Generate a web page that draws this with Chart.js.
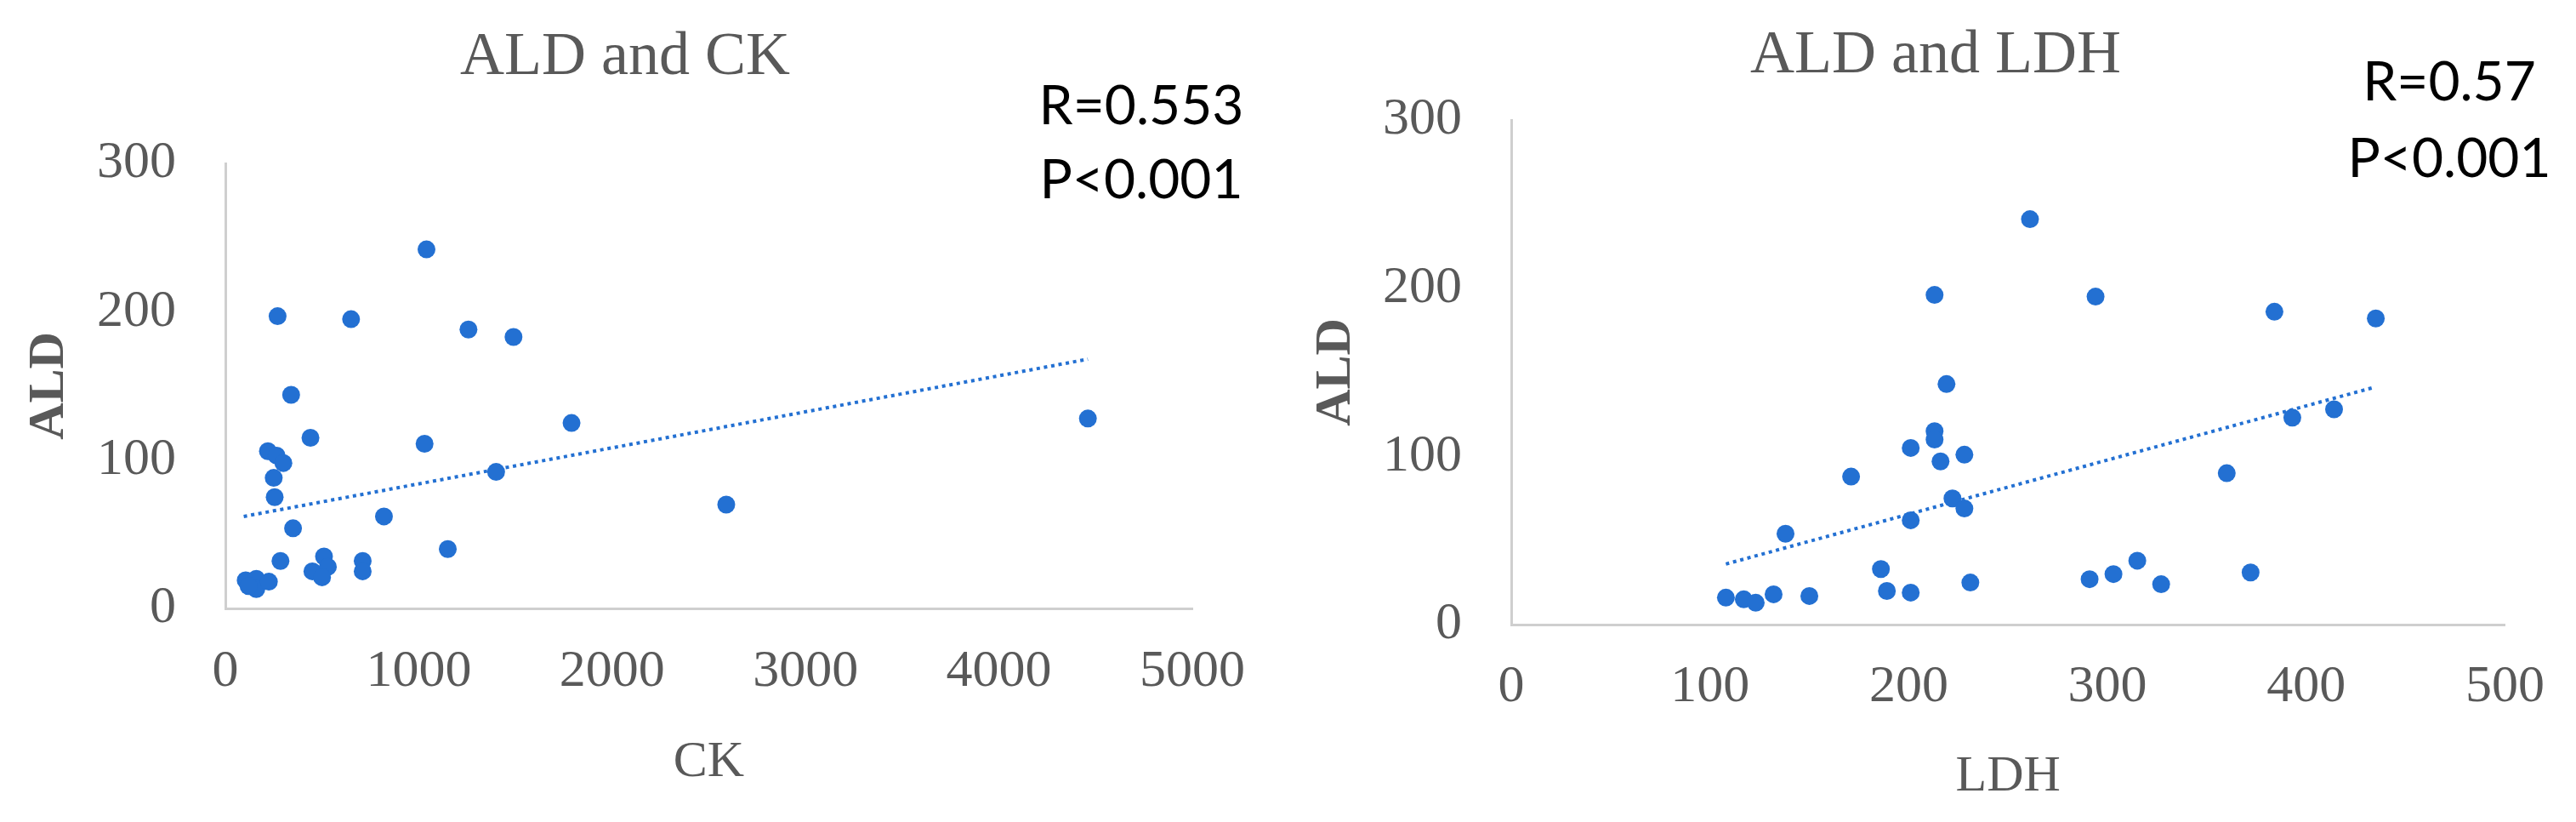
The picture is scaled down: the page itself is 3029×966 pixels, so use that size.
<!DOCTYPE html>
<html><head><meta charset="utf-8">
<script src="https://cdn.jsdelivr.net/npm/chart.js@4.4.1/dist/chart.umd.min.js"></script>
<style>
html,body{margin:0;padding:0;background:#fff;width:3029px;height:966px;overflow:hidden}
.c{position:absolute;top:0;height:966px}
#w1{left:0;width:1515px}
#w2{left:1515px;width:1514px}
</style></head>
<body>
<div class="c" id="w1"><canvas id="c1" width="1515" height="966"></canvas></div>
<div class="c" id="w2"><canvas id="c2" width="1514" height="966"></canvas></div>
<script>
// ---- data ----
const ckValues  = [1040,270,650,1257,1490,340,1790,440,1030,220,265,300,250,1400,255,2590,820,350,1150,285,510,710,710,450,530,500,105,160,160,225,120,4460];
const ckAld     = [242,197,195,188,183,144,125,115,111,106,103,98,88,92,75,70,62,54,40,32,35,32,25,25,28,21,19,20,13,18,15,128];
const ldhValues = [261,213,294,219,213,213,201,228,216,171,222,228,201,138,186,189,201,231,108,117,123,132,150,291,303,315,327,360,372,384,435,393,414];
const ldhAld    = [241,196,195,143,115,110,105,101,97,88,75,69,62,54,33,20,19,25,16,15,13,18,17,27,30,38,24,90,31,186,182,123,128];
const ckTrendX  = [95,4460];
const ckTrendY  = [62,168];
const ldhTrendX = [108,434];
const ldhTrendY = [36,141];
const ckTicksX  = [0,1000,2000,3000,4000,5000];
const ldhTicksX = [0,100,200,300,400,500];
const aldTicks  = [0,100,200,300];
const statsCK   = ['R=0.553','P<0.001'];
const statsLDH  = ['R=0.57','P<0.001'];

const BLUE = '#2370d2';
const GRAY = '#595959';
const SERIF = "'Liberation Serif', 'DejaVu Serif', serif";

const statsPlugin = {
  id: 'stats',
  afterDraw(chart, args, opts) {
    const ctx = chart.ctx;
    ctx.save();
    ctx.font = opts.font;
    ctx.fillStyle = opts.color;
    ctx.textAlign = 'center';
    ctx.textBaseline = 'middle';
    opts.lines.forEach((t, i) => ctx.fillText(t, opts.x, opts.y[i]));
    ctx.restore();
  }
};

function pts(xs, ys) { return xs.map((x, i) => ({x: x, y: ys[i]})); }

function makeChart(id, c) {
  new Chart(document.getElementById(id), {
    type: 'scatter',
    data: {
      datasets: [
        {
          label: 'ALD',
          data: pts(c.xs, c.ys),
          backgroundColor: BLUE,
          borderWidth: 0,
          pointRadius: 10.5,
          pointHoverRadius: 10.5,
          order: 1
        },
        {
          type: 'line',
          label: 'trend',
          data: pts(c.tx, c.ty),
          borderColor: BLUE,
          borderWidth: 4,
          borderDash: [4, 4.7],
          pointRadius: 0,
          fill: false,
          order: 2
        }
      ]
    },
    options: {
      responsive: false,
      animation: false,
      events: [],
      layout: {padding: {left: c.pl, right: c.pr, top: 0, bottom: 0}},
      plugins: {
        legend: {display: false},
        tooltip: {enabled: false},
        title: {
          display: true,
          text: c.title,
          color: GRAY,
          font: {family: SERIF, size: 72, weight: 'normal', lineHeight: 1.2},
          padding: {top: c.tpt, bottom: c.tpb}
        },
        stats: {
          lines: c.stats, x: c.sx, y: c.sy,
          font: "64px Lato, 'Liberation Sans', sans-serif", color: '#000'
        }
      },
      scales: {
        x: {
          type: 'linear',
          min: c.xt[0], max: c.xt[c.xt.length - 1],
          afterBuildTicks: s => { s.ticks = c.xt.map(v => ({value: v})); },
          ticks: {color: GRAY, font: {family: SERIF, size: 62}, padding: c.xpad, autoSkip: false, maxRotation: 0,
                  callback: v => String(v)},
          grid: {drawOnChartArea: false, drawTicks: false},
          border: {display: true, color: '#cfcfcf', width: 3},
          title: {display: true, text: c.xlabel, color: GRAY, font: {family: SERIF, size: 60, lineHeight: 1.2}, padding: {top: 0, bottom: c.xtb}},
          afterFit: s => { s.height = c.xh; }
        },
        y: {
          type: 'linear',
          min: 0, max: 300,
          afterBuildTicks: s => { s.ticks = aldTicks.map(v => ({value: v})); },
          ticks: {color: GRAY, font: {family: SERIF, size: 62}, padding: 58, autoSkip: false,
                  callback: v => String(v)},
          grid: {drawOnChartArea: false, drawTicks: false},
          border: {display: true, color: '#cfcfcf', width: 3},
          title: {display: true, text: 'ALD', color: GRAY, font: {family: SERIF, size: 60, weight: 'bold', lineHeight: 1.2}, padding: {top: c.ytt, bottom: 0}},
          afterFit: s => { s.width = c.yw; }
        }
      }
    },
    plugins: [statsPlugin]
  });
}

makeChart('c1', {
  xs: ckValues, ys: ckAld, tx: ckTrendX, ty: ckTrendY, xt: ckTicksX,
  title: 'ALD and CK', xlabel: 'CK', stats: statsCK, sx: 1342, sy: [125, 212],
  pl: 68, pr: 113, tpt: 24.8, tpb: 80.8, yw: 197, xh: 251, xpad: 38, xtb: 34, ytt: -46
});
makeChart('c2', {
  xs: ldhValues, ys: ldhAld, tx: ldhTrendX, ty: ldhTrendY, xt: ldhTicksX,
  title: 'ALD and LDH', xlabel: 'LDH', stats: statsLDH, sx: 1365, sy: [97, 187],
  pl: 67, pr: 59, tpt: 22.8, tpb: 31.8, yw: 195, xh: 232, xpad: 37, xtb: 17, ytt: -47
});
</script>
</body></html>
